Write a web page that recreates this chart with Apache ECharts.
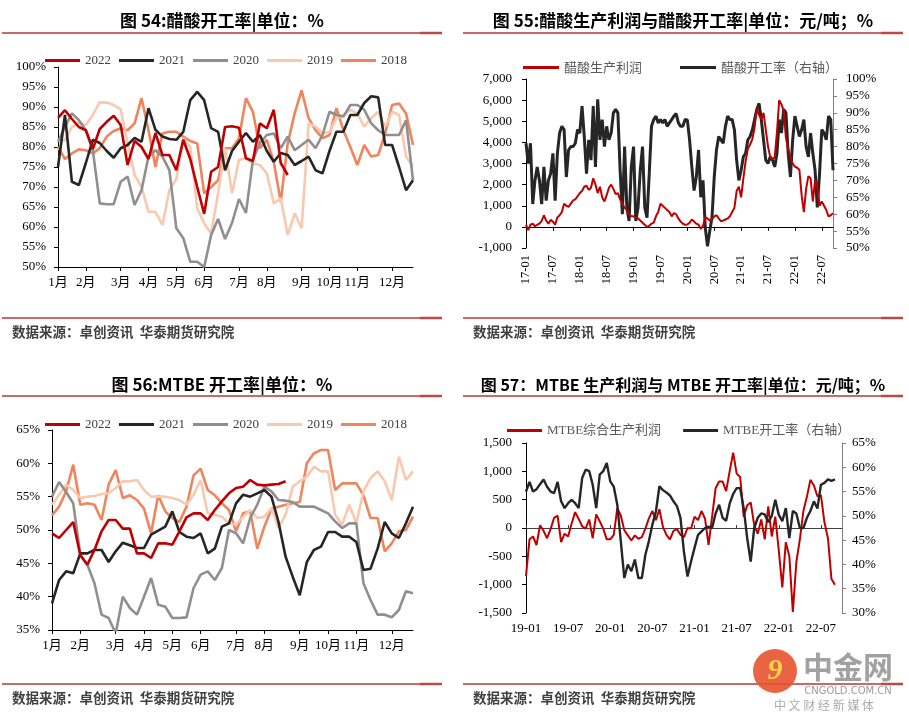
<!DOCTYPE html>
<html>
<head>
<meta charset="utf-8">
<script src="https://cdn.jsdelivr.net/npm/echarts@6/dist/echarts.min.js"></script>
<style>
html,body{margin:0;padding:0;background:#fff;}
#c{width:909px;height:723px;}
</style>
</head>
<body>
<div id="c"></div>
<script>
// ---------- Panel 54 / 56 : weekly x axis ----------
const weekLabels = ['1月','','','','2月','','','','','3月','','','','4月','','','','5月','','','','6月','','','','','7月','','','','8月','','','','','9月','','','','10月','','','','11月','','','','','12月','','',''];
const yearNames = ['2022','2021','2020','2019','2018'];

// 图54 醋酸开工率 (%)
const acid2022 = [87.3,89.2,87,85,84.2,79.5,84.5,86.3,87.8,85.5,75.5,81.5,80,77,83.5,78,78,74.2,81.8,77,70,63.3,73.8,75,85,85.2,84.8,77.2,76.5,85.9,84.7,89.3,76,73];
const acid2021 = [75,88,71.3,70.5,76,81.8,81,79,77.3,79.7,80.5,82.3,81.3,89.7,84.3,82.6,82,81.8,83.8,91.7,93.8,91.7,84.7,83.8,74.2,79,81.3,83.5,81.3,83,79,76.3,78.5,78,75.5,76.5,77.6,74.2,73.4,79,83.8,83.8,88,88,91,92.7,92.4,80.5,80.5,75,69.2,71.7];
const acid2020 = [81.3,85,88.4,86.7,84.2,79.2,65.9,65.7,65.7,71.3,72.6,65.5,69.2,77.6,79.2,77.6,74.2,59.7,57.2,51.3,51.3,50,58,62,57,61,67,63.5,76.8,81,83,83.4,79.7,82.6,79.2,80.5,81.8,79.7,83,88.8,88,87.6,90.5,90.5,89.3,85.9,84.2,83,83,83,86.7,71.7];
const acid2019 = [81.7,81.7,85,86,85.5,88,91.2,91.1,90.5,89.4,81,73,70,63.8,63.8,60.5,69.2,72,82.2,80,64.7,60.9,58.4,68.4,79.7,68.4,76.8,77.2,75.9,75.5,73.4,65.9,67.2,58,63.4,59.7,85.9,85.1,83.4,83.8,87.2,88,89.3,88.4,85.1,87.2,88.8,85.1,88.8,88,77.6,75];
const acid2018 = [80,77,78.4,79.4,79.2,78.4,79.7,82.6,84,84.7,84.2,85.9,92.2,84.2,75,83.4,83.8,83.8,82.6,81.5,80.9,68.4,70,71.7,79.7,79.7,82.2,92.2,88.8,79.7,81.8,76.3,66.3,80.9,88.4,94.2,87.2,84.2,82.2,83,89.7,84.2,80,75.5,80.5,77.6,78,83.4,90.5,90.9,88.4,80.5];

// 图56 MTBE开工率 (%)
const mtbe2022 = [49.5,48.8,50,51.2,46.2,44.8,47,49.8,51.5,51.5,50.2,50.2,46.5,46.5,45.8,48,48,47.8,49.8,51.9,52.5,52.5,51.5,53,54.3,55.5,56.3,56.5,57.5,56.8,56.7,56.8,56.9,57.3];
const mtbe2021 = [39,42.5,43.8,43.5,46.5,46.5,47,47,45.2,46.8,48.1,47.7,47.3,47.3,49.3,49.9,50.5,52.8,49.7,49,48.8,49.5,46.5,47.2,50.5,51,54,55.3,55,55.5,56,55,51.2,46,43,40.2,45.2,47,47.5,49.7,49.7,49,49,48.2,44,44.2,47.2,51.2,49.5,48.8,51,53.5];
const mtbe2020 = [55,57.2,55.7,54,46.3,44.8,42,37.3,36.8,34.5,40,38.3,37.3,40,42.8,38.8,38.5,36.8,36.8,36.9,41.3,43.3,43.8,42.5,44.3,50,49.5,48,51.8,53.8,56.5,55.8,54.5,54.4,54.2,53.5,53.5,53.5,53,52.5,51.3,50.3,51,51,42,39.5,37.3,37.3,36.9,38,40.8,40.5];
const mtbe2019 = [53.8,55.3,56.8,56,54.8,55,55.1,55.4,55.5,56.3,57.3,57.3,57.5,56,55,55,55,54.8,54.5,53.8,55.3,57.5,52.5,52.3,52,51,50.8,52,53,51.8,52,53.3,50.3,52.3,56.5,57.3,58,59.5,58.8,58.8,52.3,50.8,53.8,51,55.8,57.8,58.8,57.3,54.5,61,57.5,58.8];
const mtbe2018 = [52.2,53.5,55.8,59.8,53.8,54,53.8,51.5,56.8,59,54.8,55.2,54.5,53.2,49.5,55.2,52.8,51.8,51.2,53.5,58.2,59.2,56,55.2,54,53,49.8,52.5,52.8,47.2,50.5,53.2,53.5,53.8,54,54.2,60,61.5,62,62,56,57,57,57,55.2,51.8,51.8,46.8,48,49.8,50,52];

// ---------- 图55: half-monthly from 2017-01 ----------
const p55Ticks = ['17-01','17-07','18-01','18-07','19-01','19-07','20-01','20-07','21-01','21-07','22-01','22-07'];
const p55Count = 138;
const acidProfit = [100,-150,100,150,30,100,150,280,550,300,150,330,250,100,450,550,
700,1100,1000,950,1100,1250,1300,1450,1600,1700,1900,1950,1750,1850,2300,2000,
1600,1900,1400,1200,1500,1850,2000,1800,1550,1600,1300,1100,900,800,600,500,
500,450,400,300,200,100,0,50,150,200,500,700,1100,1000,900,800,
700,500,650,600,400,250,150,100,110,200,350,250,150,100,-100,50,
450,400,300,350,500,550,400,270,300,350,400,500,700,900,1700,1900,
1400,2300,3100,3700,3900,4150,4700,5600,5300,5100,5400,4600,3800,3300,3200,3300,
4500,6000,5800,5500,4200,3700,3300,3000,2850,2800,2700,1500,700,1800,2400,2300,
1200,2200,1900,1000,1200,1000,800,500,550,650];
const acidRate = [81,75,81,63,70,74,70,63,74,64,70,72,78,64,78,84,
86,85,71,79,80,80,81,85,84,92,83,72,82,76,92,74,
94,82,88,80,86,82,84,90,91,90,73,60,80,62,58,74,
80,58,62,73,80,62,59,72,86,88,89,87,88,87,88,86,
87,88,89,89.8,87,86,86,88,87.9,82,74,67,71,79,65,70,
56,50.5,55,59,71,79,83,82,81,86,89,88,88,85,76,70,
73,77,78,82,83,85,88,91,92.8,88,82,76,75,77,76,74,
78,88,84,91,90,78,71,82,89,86,83,85,88,80,77,84,
78,73,62,72,85,84,82,89,88,73];

// ---------- 图57: half-monthly from 2019-01 ----------
const p57Ticks = ['19-01','19-07','20-01','20-07','21-01','21-07','22-01','22-07'];
const p57Count = 91;
const mtbeProfit = [-850,-200,-150,-300,50,-50,-180,-20,180,220,-250,-100,-150,80,280,160,
30,-10,150,-180,240,120,-10,-200,-200,-120,350,220,-40,-130,-220,-130,
-190,-160,-10,170,300,140,330,20,-120,-200,-50,-20,-120,-160,0,-10,
200,140,300,160,-300,200,700,820,820,650,1000,1330,960,900,200,400,
450,50,-100,150,-200,380,-150,200,-400,-1050,-250,-500,-1480,-600,-200,300,
550,850,750,560,580,100,-180,-900,-1000];
const mtbeRate = [55,57,55,55.5,56.5,57.5,56,55,54.7,57,53,51.6,52.6,53.3,52.6,51.6,
57.8,59.5,59.2,56.4,51.6,58.5,59.2,60.9,57.1,56,52.3,44.8,37.2,40,38.6,41,
37.2,37.2,42,44.8,48.2,50.9,56.1,55.3,54.8,54.2,53,52,49.6,42.5,37.5,40.6,
43.4,46.1,46.8,47.5,47.8,47.5,50.5,52.3,49.6,49,52.5,54.5,55.7,55.7,51.6,45.4,
40.6,47.5,49.6,50.5,50.3,48.7,50,53.3,50.2,48.9,51.6,45.4,51,50.5,47.5,47.5,
49.6,51,53,51.5,56.4,56.8,57.5,57.2,57.5];

// ---------- helpers ----------
const p55Cats = Array.from({length: p55Count}, (_, i) => i % 12 === 0 ? p55Ticks[i / 12] : '');
const p57Cats = Array.from({length: p57Count}, (_, i) => i % 12 === 0 ? p57Ticks[i / 12] : '');
const fmtK = v => (v < 0 ? '-' : '') + String(Math.abs(v)).replace(/\B(?=(\d{3})+(?!\d))/g, ',');
const showNonEmpty = (idx, val) => val !== '';

const C = {
  red: '#c00000', black: '#262626', gray: '#8f8f8f', peach: '#fac8ae', salmon: '#f0845c'
};
const yearColors = [C.red, C.black, C.gray, C.peach, C.salmon];
const serif = '"Liberation Serif", "Noto Sans CJK SC", serif';
const cjk = '"Noto Sans CJK SC", sans-serif';
const ruleColor = '#c96a6a';

function yearSeries(arrs, xi, yi) {
  return arrs.map((d, k) => ({
    name: yearNames[k], type: 'line', xAxisIndex: xi, yAxisIndex: yi,
    data: d, symbol: 'none', z: 10 - k,
    lineStyle: {color: yearColors[k], width: 2.6},
    itemStyle: {color: yearColors[k]}
  }));
}

function monthAxis(gridIndex) {
  return {
    type: 'category', gridIndex, data: weekLabels, boundaryGap: false,
    axisLine: {lineStyle: {color: '#000', width: 1}},
    axisTick: {interval: showNonEmpty, length: 4, lineStyle: {color: '#000'}},
    axisLabel: {interval: showNonEmpty, color: '#000', fontSize: 13, fontFamily: serif, margin: 9},
    splitLine: {show: false}
  };
}
function pctAxis(gridIndex, min, max) {
  return {
    type: 'value', gridIndex, min, max, interval: 5, position: 'left',
    axisLine: {show: true, lineStyle: {color: '#000'}},
    axisTick: {show: true, length: 4, lineStyle: {color: '#000'}},
    axisLabel: {formatter: '{value}%', color: '#000', fontSize: 13, fontFamily: serif, margin: 12},
    splitLine: {show: false}
  };
}
function yearLegend(top) {
  return {
    data: yearNames, left: 40, top, itemGap: 8, itemWidth: 35, itemHeight: 3, icon: 'rect',
    textStyle: {color: '#404040', fontSize: 13, fontFamily: serif}, selectedMode: false
  };
}
function titleText(text, x, y, size) {
  return {type: 'text', x, y, style: {text, x: 0, y: 0, textAlign: 'center', textVerticalAlign: 'middle', font: 'bold ' + (size || 17) + 'px ' + cjk, fill: '#000'}};
}
function rule(x1, x2, y) {
  return [
    {type: 'line', shape: {x1, y1: y, x2, y2: y}, style: {stroke: ruleColor, lineWidth: 2}},
    {type: 'line', shape: {x1: x2 - 22, y1: y, x2, y2: y}, style: {stroke: '#b84a4a', lineWidth: 2.5}}
  ];
}
function footer(x, y) {
  return {type: 'text', x, y, style: {text: '数据来源：卓创资讯  华泰期货研究院', x: 0, y: 0, textVerticalAlign: 'middle', font: 'bold 13.5px ' + cjk, fill: '#404040'}};
}

const chart = echarts.init(document.getElementById('c'), null, {renderer: 'canvas'});
const option = {
  animation: false,
  backgroundColor: '#fff',
  grid: [
    {left: 58, top: 67, width: 355, height: 200},
    {left: 526, top: 79, width: 307, height: 169},
    {left: 52, top: 430, width: 361, height: 200},
    {left: 526, top: 443, width: 316, height: 170}
  ],
  legend: [
    yearLegend(49),
    {data: ['醋酸生产利润', '醋酸开工率（右轴）'], left: 518, top: 56, itemGap: 38, itemWidth: 36, itemHeight: 3, icon: 'rect',
     textStyle: {color: '#595959', fontSize: 13, fontFamily: cjk}, selectedMode: false},
    yearLegend(413),
    {data: ['MTBE综合生产利润', 'MTBE开工率（右轴）'], left: 502, top: 419, itemGap: 22, itemWidth: 35, itemHeight: 3, icon: 'rect',
     textStyle: {color: '#595959', fontSize: 13, fontFamily: serif}, selectedMode: false}
  ],
  xAxis: [
    monthAxis(0),
    {type: 'category', gridIndex: 1, data: p55Cats, boundaryGap: false,
     axisLine: {onZero: true, lineStyle: {color: '#000'}},
     axisTick: {interval: showNonEmpty, length: 4, lineStyle: {color: '#000'}},
     axisLabel: {show: false}},
    {type: 'category', gridIndex: 1, data: p55Cats, boundaryGap: false, position: 'bottom',
     axisLine: {show: false, onZero: false}, axisTick: {show: false},
     axisLabel: {interval: showNonEmpty, rotate: 90, color: '#000', fontSize: 12.5, fontFamily: serif, margin: 7}},
    monthAxis(2),
    {type: 'category', gridIndex: 3, data: p57Cats, boundaryGap: false,
     axisLine: {onZero: true, lineStyle: {color: '#404040'}},
     axisTick: {interval: showNonEmpty, length: 3, inside: true, lineStyle: {color: '#404040'}},
     axisLabel: {show: false}},
    {type: 'category', gridIndex: 3, data: p57Cats, boundaryGap: false, position: 'bottom',
     axisLine: {show: false, onZero: false}, axisTick: {show: false},
     axisLabel: {interval: showNonEmpty, color: '#000', fontSize: 13, fontFamily: serif, margin: 9}}
  ],
  yAxis: [
    pctAxis(0, 50, 100),
    {type: 'value', gridIndex: 1, min: -1000, max: 7000, interval: 1000, position: 'left',
     axisLine: {show: true, onZero: false, lineStyle: {color: '#000'}},
     axisTick: {show: true, length: 4, lineStyle: {color: '#000'}},
     axisLabel: {formatter: fmtK, color: '#000', fontSize: 13, fontFamily: serif, margin: 14},
     splitLine: {show: false}},
    {type: 'value', gridIndex: 1, min: 50, max: 100, interval: 5, position: 'right',
     axisLine: {show: true, onZero: false, lineStyle: {color: '#7f7f7f'}},
     axisTick: {show: true, length: 4, lineStyle: {color: '#7f7f7f'}},
     axisLabel: {formatter: '{value}%', color: '#000', fontSize: 13, fontFamily: serif, margin: 13},
     splitLine: {show: false}},
    pctAxis(2, 35, 65),
    {type: 'value', gridIndex: 3, min: -1500, max: 1500, interval: 500, position: 'left',
     axisLine: {show: true, onZero: false, lineStyle: {color: '#000'}},
     axisTick: {show: true, length: 4, lineStyle: {color: '#000'}},
     axisLabel: {formatter: fmtK, color: '#000', fontSize: 13, fontFamily: serif, margin: 14},
     splitLine: {show: false}},
    {type: 'value', gridIndex: 3, min: 30, max: 65, interval: 5, position: 'right',
     axisLine: {show: true, onZero: false, lineStyle: {color: '#7f7f7f'}},
     axisTick: {show: true, length: 4, lineStyle: {color: '#7f7f7f'}},
     axisLabel: {formatter: '{value}%', color: '#000', fontSize: 13, fontFamily: serif, margin: 10},
     splitLine: {show: false}}
  ],
  series: [
    ...yearSeries([acid2022, acid2021, acid2020, acid2019, acid2018], 0, 0),
    {name: '醋酸开工率（右轴）', type: 'line', xAxisIndex: 1, yAxisIndex: 2, data: acidRate, symbol: 'none', z: 3,
     lineStyle: {color: C.black, width: 3}, itemStyle: {color: C.black}},
    {name: '醋酸生产利润', type: 'line', xAxisIndex: 1, yAxisIndex: 1, data: acidProfit, symbol: 'none', z: 4,
     lineStyle: {color: C.red, width: 2}, itemStyle: {color: C.red}},
    ...yearSeries([mtbe2022, mtbe2021, mtbe2020, mtbe2019, mtbe2018], 3, 3),
    {name: 'MTBE综合生产利润', type: 'line', xAxisIndex: 4, yAxisIndex: 4, data: mtbeProfit, symbol: 'none', z: 3,
     lineStyle: {color: C.red, width: 2}, itemStyle: {color: C.red}},
    {name: 'MTBE开工率（右轴）', type: 'line', xAxisIndex: 4, yAxisIndex: 5, data: mtbeRate, symbol: 'none', z: 4,
     lineStyle: {color: C.black, width: 2.4}, itemStyle: {color: C.black}}
  ],
  graphic: [
    titleText('图 54:醋酸开工率|单位：%', 222, 21),
    titleText('图 55:醋酸生产利润与醋酸开工率|单位：元/吨；%', 683, 21),
    titleText('图 56:MTBE 开工率|单位：%', 222, 385),
    titleText('图 57：MTBE 生产利润与 MTBE 开工率|单位：元/吨；%', 683, 385, 16),
    ...rule(2, 442, 33), ...rule(463, 903, 33),
    ...rule(2, 442, 396), ...rule(463, 903, 396),
    ...rule(2, 442, 318), ...rule(463, 903, 318),
    ...rule(2, 442, 684), ...rule(463, 903, 684),
    footer(12, 332), footer(473, 332), footer(12, 698), footer(473, 698),
    {type: 'circle', shape: {cx: 775, cy: 671, r: 22}, style: {fill: '#e5532e', opacity: 0.9}},
    {type: 'text', x: 775, y: 671, style: {text: '9', x: 0, y: 0, textAlign: 'center', textVerticalAlign: 'middle', font: 'bold italic 30px "Liberation Serif"', fill: '#ffd24a'}},
    {type: 'text', x: 848, y: 667, style: {text: '中金网', x: 0, y: 0, textAlign: 'center', textVerticalAlign: 'middle', font: 'bold 30px ' + cjk, fill: 'rgba(130,130,130,0.75)'}},
    {type: 'text', x: 848, y: 691, style: {text: 'CNGOLD.COM.CN', x: 0, y: 0, textAlign: 'center', textVerticalAlign: 'middle', font: '10px "DejaVu Sans"', fill: 'rgba(130,130,130,0.8)'}},
    {type: 'text', x: 824, y: 705, style: {text: '中 文 财 经 新 媒 体', x: 0, y: 0, textAlign: 'center', textVerticalAlign: 'middle', font: '12px ' + cjk, fill: 'rgba(150,150,150,0.8)'}}
  ]
};
chart.setOption(option);
</script>
</body>
</html>
